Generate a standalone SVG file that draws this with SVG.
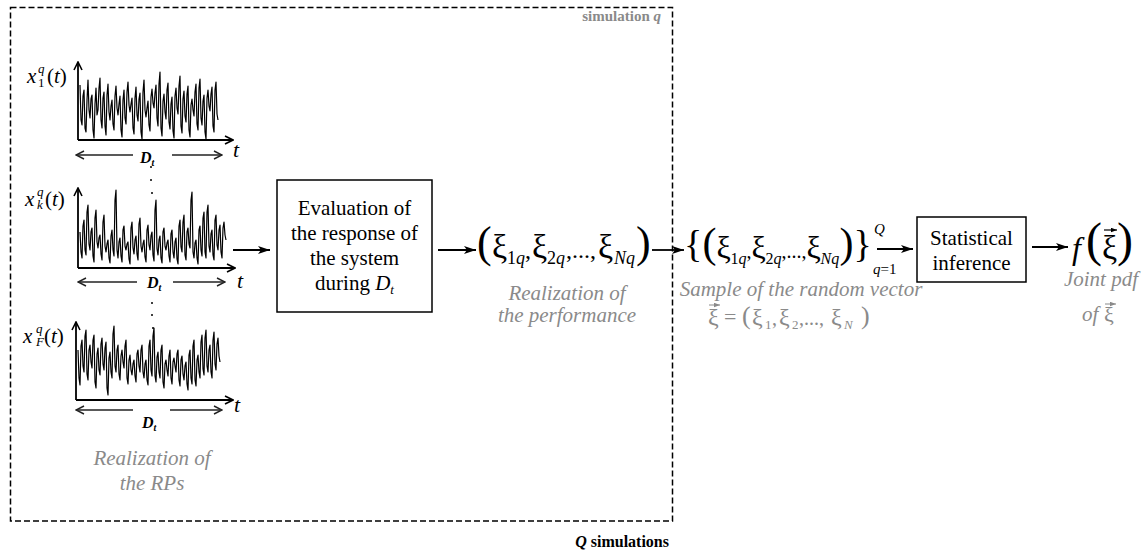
<svg xmlns="http://www.w3.org/2000/svg" width="1146" height="554" viewBox="0 0 1146 554" font-family="'Liberation Serif', 'Times New Roman', serif">
<defs>
<marker id="ah" viewBox="0 0 12 8" refX="12" refY="4" markerWidth="12" markerHeight="8" markerUnits="userSpaceOnUse" orient="auto"><path d="M0,0 L12,4 L0,8 L3,4 z" fill="#000"/></marker>
<marker id="ax" viewBox="0 0 10 10" refX="9" refY="5" markerWidth="10" markerHeight="10" markerUnits="userSpaceOnUse" orient="auto"><path d="M1,1 L9,5 L1,9" fill="none" stroke="#000" stroke-width="1.6"/></marker>
<marker id="ch" viewBox="0 0 10 10" refX="9" refY="5" markerWidth="10" markerHeight="10" markerUnits="userSpaceOnUse" orient="auto"><path d="M1,1 L9,5 L1,9" fill="none" stroke="#222" stroke-width="1.4"/></marker>
<marker id="sa" viewBox="0 0 8 6" refX="8" refY="3" markerWidth="6" markerHeight="5" markerUnits="userSpaceOnUse" orient="auto"><path d="M0,0 L8,3 L0,6 z" fill="context-stroke"/></marker>
</defs>
<style>
text{font-family:"Liberation Serif","Times New Roman",serif;fill:#000}
.gr{fill:#8a8a8a}
.it{font-style:italic}
.bd{font-weight:bold}
.cap{font-size:21px;font-style:italic;fill:#8a8a8a;text-anchor:middle}
.box{fill:#fff;stroke:#000;stroke-width:1.5}
.sig{fill:none;stroke:#000;stroke-width:1.2;stroke-linejoin:round}
.axis{fill:none;stroke:#000;stroke-width:1.8}
.dt{fill:none;stroke:#222;stroke-width:1.4}
.conn{fill:none;stroke:#000;stroke-width:1.8}
.xi{font-size:34px}
.par{font-size:44px}
.sub{font-size:18px}
.sep{font-size:24px}
.xis{font-size:32px}
.pars{font-size:42px}
.brs{font-size:38px}
.subs{font-size:16px}
.seps{font-size:20px}
.lbl{font-size:21px}
</style>

<g id="simulation-frame">
<rect x="10.5" y="7.5" width="662" height="513.5" fill="none" stroke="#000" stroke-width="1.5" stroke-dasharray="6 3"/>
<text x="661" y="21" font-size="15" class="bd gr" text-anchor="end">simulation <tspan class="it">q</tspan></text>
<text x="669" y="547" font-size="16" class="bd" text-anchor="end"><tspan class="it">Q</tspan> simulations</text>
</g>

<g id="rp1">
<polyline class="sig" points="80,85 81,120 82,125 83,96 84,90 85,128 86,132 87,100 88,80 89,110 90,118 91,99 92,95 93,130 94,138 95,104 96,88 97,115 98,110 99,88 100,78 101,120 102,128 103,98 104,92 105,126 106,135 107,95 108,84 109,112 110,120 111,106 112,100 113,124 114,130 115,96 116,86 117,108 118,115 119,104 120,96 121,130 122,137 123,100 124,90 125,118 126,124 127,92 128,82 129,105 130,112 131,104 132,98 133,128 134,134 135,98 136,87 137,115 138,121 139,99 140,93 141,132 142,139 143,92 144,80 145,110 146,117 147,108 148,101 149,125 150,131 151,97 152,89 153,103 154,108 155,93 156,85 157,118 158,126 159,84 160,72 161,128 162,136 163,101 164,94 165,112 166,119 167,90 168,83 169,122 170,129 171,104 172,97 173,131 174,138 175,96 176,88 177,108 178,114 179,86 180,76 181,126 182,133 183,99 184,91 185,116 186,122 187,94 188,86 189,130 190,137 191,105 192,99 193,110 194,116 195,92 196,84 197,124 198,130 199,88 200,79 201,118 202,125 203,101 204,95 205,132 206,139 207,98 208,90 209,106 210,111 211,94 212,87 213,126 214,132 215,90 216,82 217,114 218,120"/>
<path class="axis" d="M78,140 V62" marker-end="url(#ax)"/>
<path class="axis" d="M78,140 H233" marker-end="url(#ax)"/>
<path class="dt" d="M133,155 H76" marker-end="url(#ch)"/>
<path class="dt" d="M172,155 H222" marker-end="url(#ch)"/>
<text x="140" y="163" font-size="16" class="bd it">D<tspan font-size="10" dy="3">t</tspan></text>
<text x="233" y="157" font-size="22" class="it">t</text>
<text x="27" y="83" font-size="21"><tspan class="it">x</tspan><tspan x="38" y="73" font-size="13" class="it">q</tspan><tspan x="38" y="87" font-size="13">1</tspan><tspan x="47" y="83">(</tspan><tspan class="it">t</tspan>)</text>
</g>

<g id="dots">
<circle cx="151" cy="167" r="1"/><circle cx="151" cy="180" r="1"/><circle cx="152" cy="193" r="1"/>
<circle cx="152" cy="303" r="1"/><circle cx="152" cy="315" r="1"/><circle cx="153" cy="328" r="1"/>
</g>

<g id="rpk">
<polyline class="sig" points="80,232 81,252 82,258 83,226 84,220 85,250 86,255 87,212 88,205 89,244 90,250 91,232 92,228 93,256 94,262 95,218 96,210 97,242 98,248 99,238 100,235 101,254 102,260 103,222 104,215 105,246 106,252 107,244 108,240 109,258 110,263 111,236 112,230 113,250 114,256 115,200 116,190 117,250 118,258 119,242 120,238 121,256 122,262 123,230 124,226 125,246 126,250 127,244 128,242 129,259 130,264 131,228 132,222 133,248 134,254 135,240 136,236 137,254 138,260 139,224 140,218 141,246 142,252 143,244 144,240 145,257 146,262 147,230 148,225 149,245 150,250 151,236 152,232 153,255 154,261 155,210 156,200 157,249 158,255 159,240 160,236 161,258 162,263 163,232 164,228 165,246 166,250 167,243 168,240 169,256 170,262 171,234 172,230 173,252 174,258 175,242 176,238 177,259 178,264 179,226 180,220 181,247 182,252 183,222 184,215 185,255 186,260 187,232 188,228 189,244 190,248 191,200 192,192 193,252 194,258 195,243 196,240 197,258 198,264 199,230 200,226 201,250 202,256 203,218 204,212 205,252 206,258 207,212 208,205 209,246 210,252 211,234 212,230 213,255 214,260 215,220 216,215 217,245 218,250 219,230 220,225 221,252 222,258 223,228 224,222 225,235 226,240"/>
<path class="axis" d="M78,268 V188" marker-end="url(#ax)"/>
<path class="axis" d="M78,268 H235" marker-end="url(#ax)"/>
<path class="dt" d="M137,282 H78" marker-end="url(#ch)"/>
<path class="dt" d="M173,282 H225" marker-end="url(#ch)"/>
<text x="147" y="288" font-size="16" class="bd it">D<tspan font-size="10" dy="3">t</tspan></text>
<text x="237" y="288" font-size="22" class="it">t</text>
<text x="25" y="206" font-size="21"><tspan class="it">x</tspan><tspan x="37" y="196" font-size="13" class="it">q</tspan><tspan x="37" y="209" font-size="13" class="it">k</tspan><tspan x="45" y="206">(</tspan><tspan class="it">t</tspan>)</text>
</g>

<g id="rpF">
<polyline class="sig" points="78,350 79,378 80,385 81,346 82,340 83,366 84,372 85,336 86,330 87,374 88,380 89,350 90,345 91,362 92,368 93,340 94,335 95,382 96,388 97,354 98,348 99,370 100,375 101,344 102,338 103,364 104,370 105,348 106,342 107,388 108,395 109,358 110,352 111,372 112,378 113,334 114,326 115,366 116,372 117,350 118,345 119,374 120,380 121,356 122,350 123,362 124,368 125,346 126,340 127,378 128,384 129,360 130,355 131,370 132,375 133,364 134,360 135,376 136,382 137,354 138,350 139,366 140,372 141,350 142,345 143,372 144,378 145,364 146,360 147,380 148,385 149,346 150,340 151,370 152,376 153,336 154,328 155,376 156,382 157,357 158,352 159,372 160,378 161,350 162,345 163,382 164,388 165,364 166,360 167,370 168,376 169,356 170,350 171,378 172,384 173,362 174,358 175,366 176,372 177,354 178,350 179,380 180,386 181,360 182,356 183,374 184,380 185,366 186,362 187,384 188,390 189,355 190,350 191,378 192,384 193,346 194,340 195,380 196,386 197,360 198,355 199,372 200,378 201,342 202,335 203,369 204,375 205,338 206,330 207,366 208,372 209,350 210,345 211,372 212,378 213,340 214,332 215,364 216,370 217,344 218,338 219,356 220,362"/>
<path class="axis" d="M76,400 V322" marker-end="url(#ax)"/>
<path class="axis" d="M76,400 H233" marker-end="url(#ax)"/>
<path class="dt" d="M133,410 H76" marker-end="url(#ch)"/>
<path class="dt" d="M170,410 H222" marker-end="url(#ch)"/>
<text x="142" y="428" font-size="16" class="bd it">D<tspan font-size="10" dy="3">t</tspan></text>
<text x="234" y="412" font-size="22" class="it">t</text>
<text x="23" y="343" font-size="21"><tspan class="it">x</tspan><tspan x="36" y="333" font-size="13" class="it">q</tspan><tspan x="36" y="346" font-size="13" class="it">F</tspan><tspan x="44" y="343">(</tspan><tspan class="it">t</tspan>)</text>
<text class="cap" x="152" y="465">Realization of</text>
<text class="cap" x="152" y="490">the RPs</text>
</g>

<g id="evaluation">
<rect class="box" x="277" y="180" width="155" height="132"/>
<text class="lbl" x="354.5" y="215" text-anchor="middle">Evaluation of</text>
<text class="lbl" x="354.5" y="240" text-anchor="middle">the response of</text>
<text class="lbl" x="354.5" y="265" text-anchor="middle">the system</text>
<text class="lbl" x="354.5" y="290" text-anchor="middle">during <tspan class="it">D</tspan><tspan class="it" font-size="13" dy="4">t</tspan></text>
</g>

<g id="performance">
<text y="258"><tspan class="par" x="477" y="257">(</tspan><tspan class="xi" x="492" y="258">ξ</tspan><tspan class="sub" x="507" y="264">1<tspan class="it">q</tspan></tspan><tspan class="sep" x="525" y="258">,</tspan><tspan class="xi" x="532" y="258">ξ</tspan><tspan class="sub" x="547" y="264">2<tspan class="it">q</tspan></tspan><tspan class="sep" x="566" y="258">,...,</tspan><tspan class="xi" x="598" y="258">ξ</tspan><tspan class="sub it" x="614" y="264">Nq</tspan><tspan class="par" x="636" y="257">)</tspan></text>
<text class="cap" x="567" y="300">Realization of</text>
<text class="cap" x="567" y="322">the performance</text>
</g>

<g id="sample">
<text y="258"><tspan class="brs" x="684" y="257">{</tspan><tspan class="pars" x="702.5" y="257">(</tspan><tspan class="xis" x="716.5" y="258">ξ</tspan><tspan class="subs" x="730.5" y="264">1<tspan class="it">q</tspan></tspan><tspan class="seps" x="746.5" y="258">,</tspan><tspan class="xis" x="751.5" y="258">ξ</tspan><tspan class="subs" x="765.5" y="264">2<tspan class="it">q</tspan></tspan><tspan class="seps" x="781.5" y="258">,...,</tspan><tspan class="xis" x="806.5" y="258">ξ</tspan><tspan class="subs it" x="820.5" y="264">Nq</tspan><tspan class="pars" x="839.5" y="257">)</tspan><tspan class="brs" x="853.5" y="257">}</tspan><tspan x="874" y="234" font-size="15" class="it">Q</tspan><tspan x="873" y="274" font-size="15" class="it">q</tspan><tspan font-size="15">=1</tspan></text>
<text class="cap" x="801" y="296">Sample of the random vector</text>
<text class="gr" y="325"><tspan x="708" y="325" font-size="24">ξ</tspan><tspan x="724" y="324" font-size="22">=</tspan><tspan x="742" y="324" font-size="26">(</tspan><tspan x="752" y="325" font-size="24">ξ</tspan><tspan x="765" y="329" font-size="13">1</tspan><tspan x="772" y="325" font-size="20">,</tspan><tspan x="779" y="325" font-size="24">ξ</tspan><tspan x="792" y="329" font-size="13">2</tspan><tspan x="799" y="325" font-size="20">,...,</tspan><tspan x="831" y="325" font-size="24">ξ</tspan><tspan x="844" y="329" font-size="13" class="it">N</tspan><tspan x="861" y="324" font-size="26">)</tspan></text>
<path d="M709,305 H720" stroke="#8a8a8a" stroke-width="1" marker-end="url(#sa)"/>
</g>

<g id="statistical-inference">
<rect class="box" x="917" y="217" width="109" height="65"/>
<text class="lbl" x="971.5" y="245" text-anchor="middle">Statistical</text>
<text class="lbl" x="971.5" y="270" text-anchor="middle">inference</text>
</g>

<g id="joint-pdf">
<text y="259"><tspan x="1072" y="259" font-size="32" class="it">f</tspan><tspan x="1086" y="256" font-size="48">(</tspan><tspan x="1102" y="259" font-size="34">ξ</tspan><tspan x="1117" y="256" font-size="48">)</tspan></text>
<path d="M1104,230 H1117" stroke="#000" stroke-width="1.2" marker-end="url(#sa)"/>
<text class="cap" x="1101" y="286">Joint pdf</text>
<text class="gr" y="321"><tspan class="it" x="1082" y="321" font-size="21">of</tspan><tspan x="1104" y="322" font-size="22">ξ</tspan></text>
<path d="M1105,304 H1116" stroke="#8a8a8a" stroke-width="1" marker-end="url(#sa)"/>
</g>

<g id="connectors">
<path class="conn" d="M233,250 H270" marker-end="url(#ah)"/>
<path class="conn" d="M438,250 H476" marker-end="url(#ah)"/>
<path class="conn" d="M652,250 H684" marker-end="url(#ah)"/>
<path class="conn" d="M877,249 H913" marker-end="url(#ah)"/>
<path class="conn" d="M1032,247 H1068" marker-end="url(#ah)"/>
</g>
</svg>
